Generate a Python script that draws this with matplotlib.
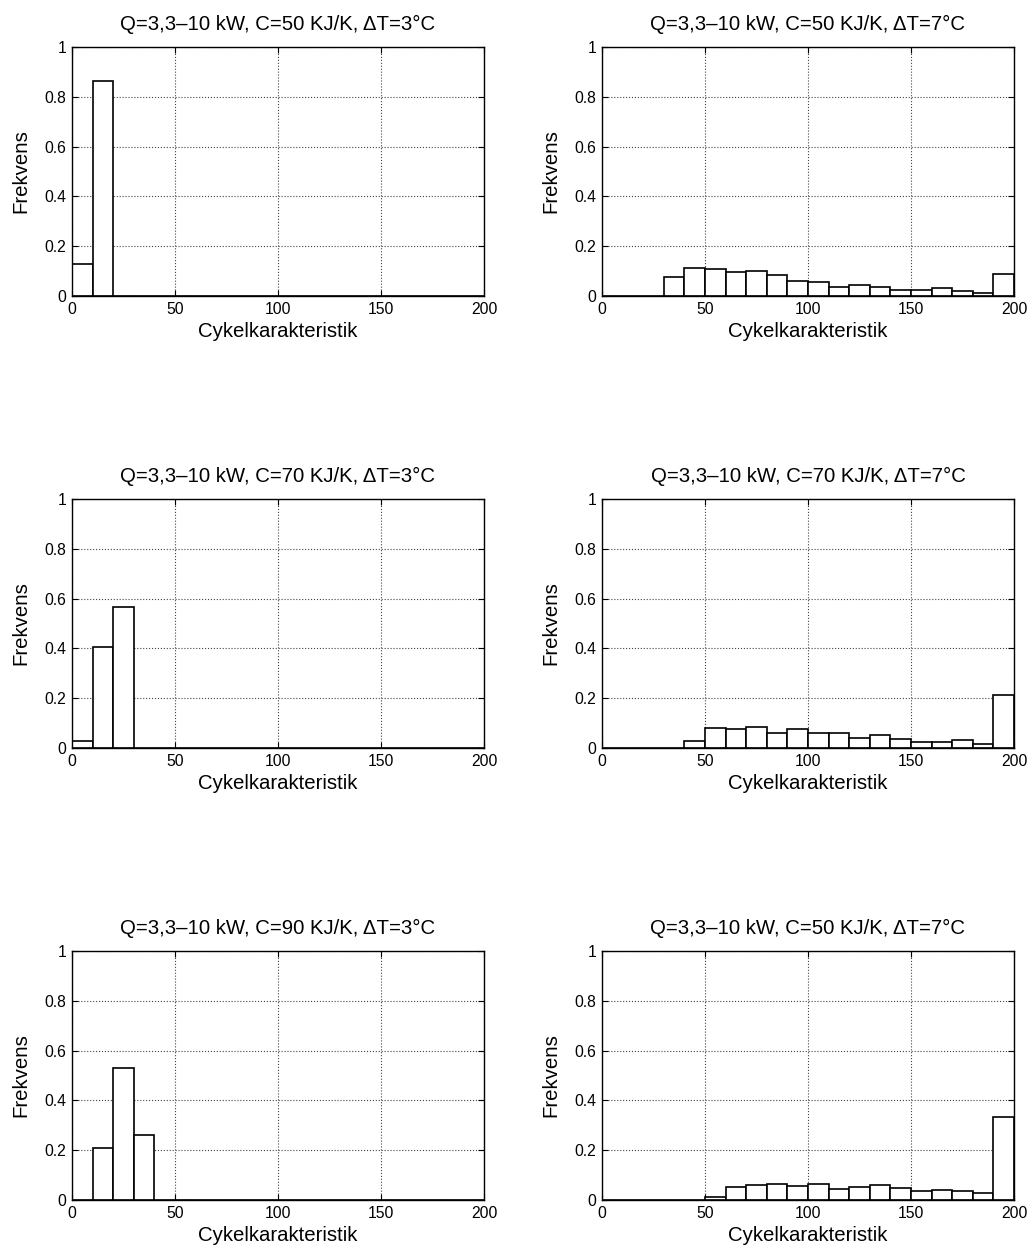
import numpy as np
import matplotlib.pyplot as plt

plt.rcParams['font.family'] = ['Liberation Sans', 'DejaVu Sans']

# bin edges of the histograms (width 10, 0..200)
bin_left = np.arange(0, 200, 10)

# frequencies per bin
f_50_3 = [0.13, 0.865] + [0] * 18
f_50_7 = [0, 0, 0, 0.076, 0.113, 0.107, 0.095, 0.099, 0.084, 0.059,
          0.057, 0.037, 0.045, 0.035, 0.025, 0.025, 0.031, 0.019, 0.013, 0.089]
f_70_3 = [0.03, 0.405, 0.565] + [0] * 17
f_70_7 = [0, 0, 0, 0, 0.029, 0.080, 0.075, 0.083, 0.061, 0.076,
          0.061, 0.061, 0.042, 0.052, 0.035, 0.024, 0.023, 0.034, 0.018, 0.212]
f_90_3 = [0, 0.21, 0.53, 0.26] + [0] * 16
f_90_7 = [0, 0, 0, 0, 0, 0.013, 0.054, 0.062, 0.066, 0.058,
          0.063, 0.046, 0.054, 0.059, 0.050, 0.035, 0.040, 0.038, 0.030, 0.334]

titles = [
    "Q=3,3–10 kW, C=50 KJ/K, ΔT=3°C",
    "Q=3,3–10 kW, C=50 KJ/K, ΔT=7°C",
    "Q=3,3–10 kW, C=70 KJ/K, ΔT=3°C",
    "Q=3,3–10 kW, C=70 KJ/K, ΔT=7°C",
    "Q=3,3–10 kW, C=90 KJ/K, ΔT=3°C",
    "Q=3,3–10 kW, C=50 KJ/K, ΔT=7°C",
]
series = [f_50_3, f_50_7, f_70_3, f_70_7, f_90_3, f_90_7]

fig = plt.figure(figsize=(10.31, 12.57), dpi=100)

lefts = [0.0698, 0.5839]
bottoms = [0.7645, 0.4049, 0.0453]
w, h = 0.3996, 0.1981

for i, (vals, title) in enumerate(zip(series, titles)):
    ax = fig.add_axes([lefts[i % 2], bottoms[i // 2], w, h])
    ax.bar(bin_left, vals, width=10, align='edge', facecolor='white',
           edgecolor='black', linewidth=1.2, zorder=3)
    ax.set_xlim(0, 200)
    ax.set_ylim(0, 1)
    ax.set_xticks([0, 50, 100, 150, 200])
    ax.set_yticks([0, 0.2, 0.4, 0.6, 0.8, 1])
    ax.set_yticklabels(['0', '0.2', '0.4', '0.6', '0.8', '1'])
    ax.grid(True, linestyle=':', color='#444444', linewidth=0.8, zorder=0)
    ax.tick_params(direction='in', top=True, right=True, length=4,
                   labelsize=11.3, color='black', pad=4)
    for s in ax.spines.values():
        s.set_linewidth(1.0)
        s.set_zorder(4)
    ax.set_title(title, fontsize=14.7, pad=12)
    ax.set_xlabel("Cykelkarakteristik", fontsize=14.7, labelpad=4)
    ax.set_ylabel("Frekvens", fontsize=14.7, labelpad=10)

fig.savefig("out.png", dpi=100)
